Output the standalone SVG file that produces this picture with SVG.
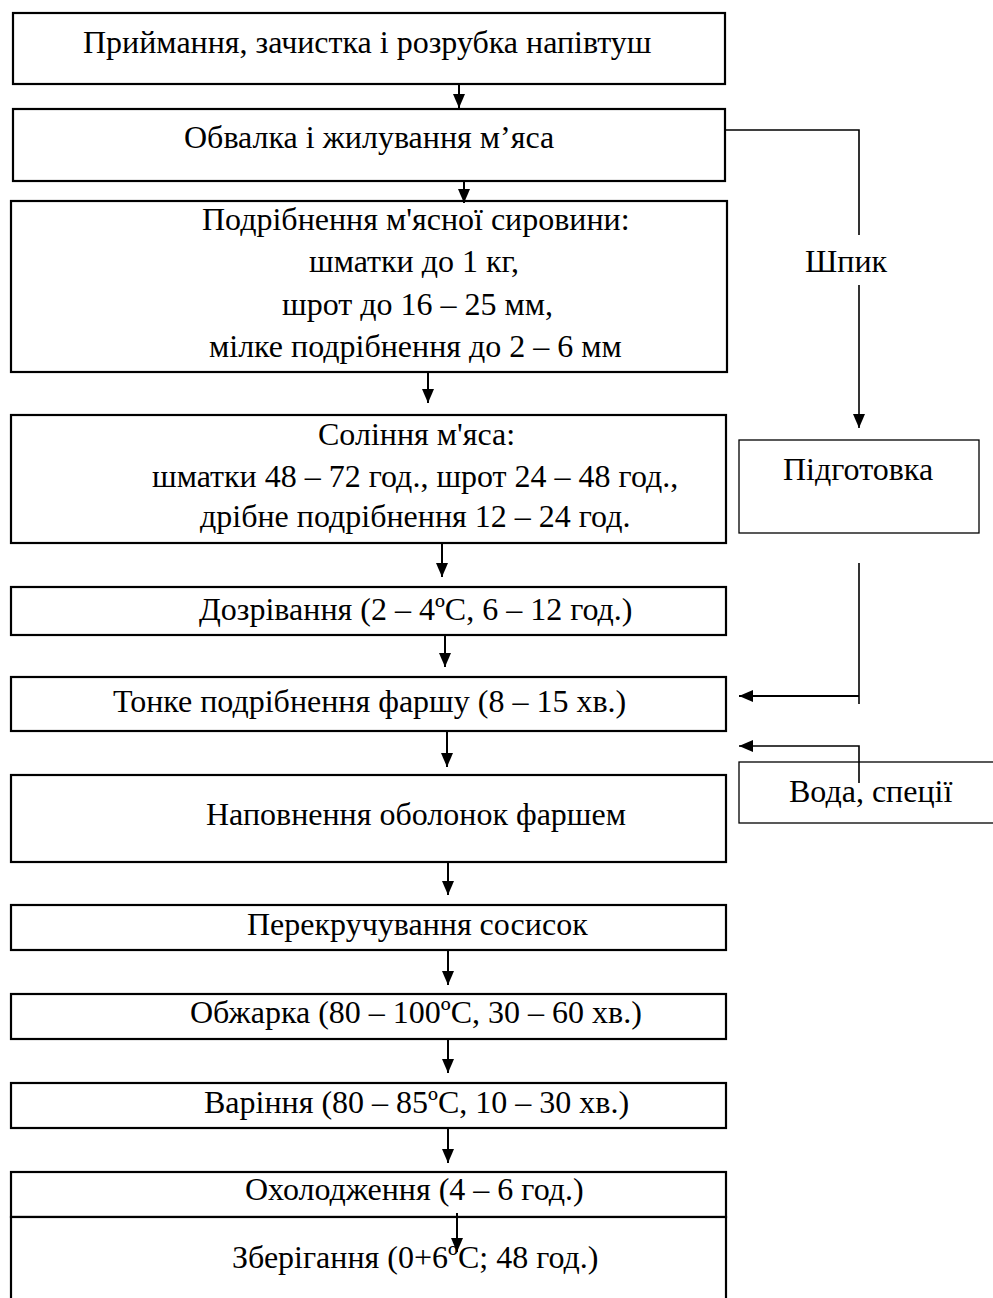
<svg xmlns="http://www.w3.org/2000/svg" width="993" height="1298" viewBox="0 0 993 1298">
<style>
.box{fill:#fff;stroke:#000;stroke-width:2.2}
.sbox{fill:#fff;stroke:#000;stroke-width:1.3}
text{font-family:"Liberation Serif","Times New Roman",serif;font-size:32px;fill:#000}
.c{stroke:#000;stroke-width:2;fill:none}
.t{stroke:#000;stroke-width:1.6;fill:none}
</style>
<defs>
<marker id="ah" viewBox="0 0 14 12" refX="14" refY="6" markerWidth="14" markerHeight="12" markerUnits="userSpaceOnUse" orient="auto">
<path d="M0,0 L14,6 L0,12 z" fill="#000"/>
</marker>
</defs>
<rect width="993" height="1298" fill="#fff"/>
<g id="n1"><rect class="box" x="13" y="13" width="712" height="71"/><text x="83" y="53">Приймання, зачистка і розрубка напівтуш</text></g>
<g id="n2"><rect class="box" x="13" y="109" width="712" height="72"/><text x="184" y="148">Обвалка і жилування м’яса</text></g>
<g id="n3"><rect class="box" x="11" y="201" width="716" height="171"/>
<text x="202" y="230">Подрібнення м'ясної сировини:</text>
<text x="309" y="272">шматки до 1 кг,</text>
<text x="282" y="315">шрот до 16 – 25 мм,</text>
<text x="209" y="357">мілке подрібнення до 2 – 6 мм</text></g>
<g id="n4"><rect class="box" x="11" y="415" width="715" height="128"/>
<text x="318" y="445">Соління м'яса:</text>
<text x="152" y="487">шматки 48 – 72 год., шрот 24 – 48 год.,</text>
<text x="200" y="527">дрібне подрібнення 12 – 24 год.</text></g>
<g id="n5"><rect class="box" x="11" y="587" width="715" height="48"/><text x="199" y="620">Дозрівання (2 – 4ºC, 6 – 12 год.)</text></g>
<g id="n6"><rect class="box" x="11" y="677" width="715" height="54"/><text x="113" y="712">Тонке подрібнення фаршу (8 – 15 хв.)</text></g>
<g id="n7"><rect class="box" x="11" y="775" width="715" height="87"/><text x="206" y="825">Наповнення оболонок фаршем</text></g>
<g id="n8"><rect class="box" x="11" y="905" width="715" height="45"/><text x="247" y="935">Перекручування сосисок</text></g>
<g id="n9"><rect class="box" x="11" y="994" width="715" height="45"/><text x="190" y="1023">Обжарка (80 – 100ºC, 30 – 60 хв.)</text></g>
<g id="n10"><rect class="box" x="11" y="1083" width="715" height="45"/><text x="204" y="1113">Варіння (80 – 85ºC, 10 – 30 хв.)</text></g>
<g id="n11"><rect class="box" x="11" y="1172" width="715" height="45"/><text x="245" y="1200">Охолодження (4 – 6 год.)</text></g>
<g id="n12"><rect class="box" x="11" y="1217" width="715" height="90"/><text x="232" y="1268">Зберігання (0+6ºC; 48 год.)</text></g>
<g id="n13"><rect class="sbox" x="739" y="440" width="240" height="93"/><text x="783" y="480">Підготовка</text></g>
<g id="n14"><rect class="sbox" x="739" y="762" width="270" height="61"/><text x="789" y="802">Вода, спеції</text></g>
<g id="n15"><text x="805" y="272">Шпик</text></g>
<g id="connectors">
<line class="c" x1="459" y1="84" x2="459" y2="108" marker-end="url(#ah)"/>
<line class="c" x1="464" y1="181" x2="464" y2="203" marker-end="url(#ah)"/>
<line class="c" x1="428" y1="372" x2="428" y2="403" marker-end="url(#ah)"/>
<line class="c" x1="442" y1="543" x2="442" y2="577" marker-end="url(#ah)"/>
<line class="c" x1="445" y1="635" x2="445" y2="667" marker-end="url(#ah)"/>
<line class="c" x1="447" y1="731" x2="447" y2="767" marker-end="url(#ah)"/>
<line class="c" x1="448" y1="862" x2="448" y2="895" marker-end="url(#ah)"/>
<line class="c" x1="448" y1="950" x2="448" y2="985" marker-end="url(#ah)"/>
<line class="c" x1="448" y1="1039" x2="448" y2="1073" marker-end="url(#ah)"/>
<line class="c" x1="448" y1="1128" x2="448" y2="1163" marker-end="url(#ah)"/>
<line class="c" x1="457" y1="1213" x2="457" y2="1252" marker-end="url(#ah)"/>
<polyline class="t" points="725,130 859,130 859,235"/>
<line class="t" x1="859" y1="285" x2="859" y2="428" marker-end="url(#ah)"/>
<line class="t" x1="859" y1="563" x2="859" y2="704"/>
<line class="c" x1="859" y1="696" x2="739" y2="696" marker-end="url(#ah)"/>
<polyline class="t" points="859,783 859,746 739,746" marker-end="url(#ah)"/>
</g>
</svg>
